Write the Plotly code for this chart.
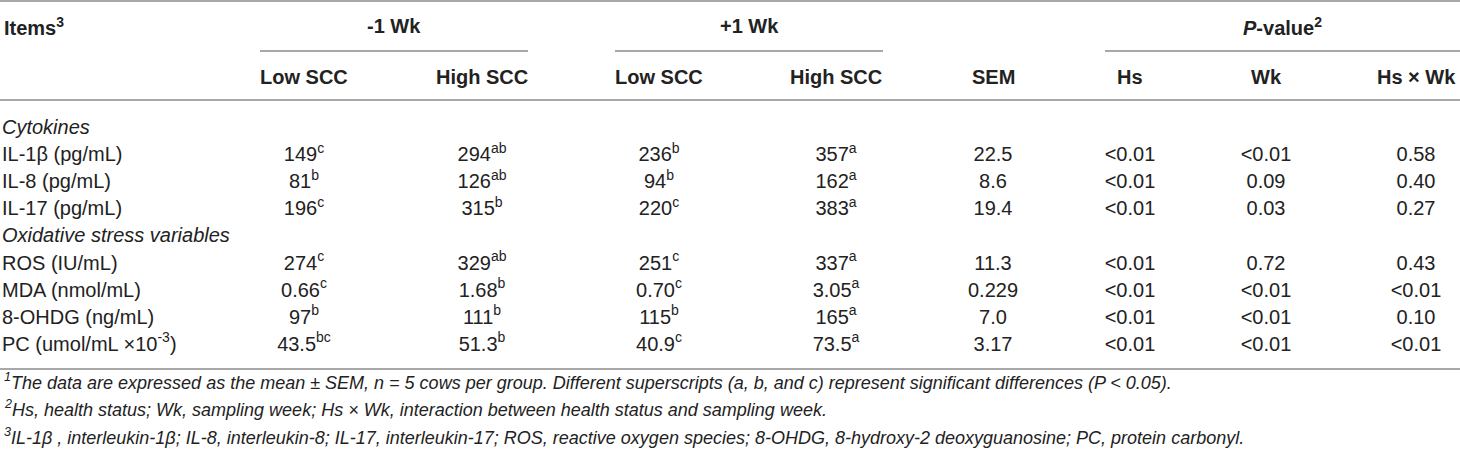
import plotly.graph_objects as go

# ---------------- data ----------------
items = ["<i>Cytokines</i>", "IL-1β (pg/mL)", "IL-8 (pg/mL)", "IL-17 (pg/mL)",
         "<i>Oxidative stress variables</i>", "ROS (IU/mL)", "MDA (nmol/mL)",
         "8-OHDG (ng/mL)", "PC (umol/mL ×10<sup>-3</sup>)"]
data_rows = [1, 2, 3, 5, 6, 7, 8]

low_m1 = ["149", "81", "196", "274", "0.66", "97", "43.5"]
low_m1_sup = ["c", "b", "c", "c", "c", "b", "bc"]
high_m1 = ["294", "126", "315", "329", "1.68", "111", "51.3"]
high_m1_sup = ["ab", "ab", "b", "ab", "b", "b", "b"]
low_p1 = ["236", "94", "220", "251", "0.70", "115", "40.9"]
low_p1_sup = ["b", "b", "c", "c", "c", "b", "c"]
high_p1 = ["357", "162", "383", "337", "3.05", "165", "73.5"]
high_p1_sup = ["a", "a", "a", "a", "a", "a", "a"]
sem = ["22.5", "8.6", "19.4", "11.3", "0.229", "7.0", "3.17"]
p_hs = ["<0.01", "<0.01", "<0.01", "<0.01", "<0.01", "<0.01", "<0.01"]
p_wk = ["<0.01", "0.09", "0.03", "0.72", "<0.01", "<0.01", "<0.01"]
p_int = ["0.58", "0.40", "0.27", "0.43", "<0.01", "0.10", "<0.01"]

group_headers = ["-1 Wk", "+1 Wk", "<i>P</i>-value<sup>2</sup>"]
sub_headers = ["Low SCC", "High SCC", "Low SCC", "High SCC", "SEM", "Hs", "Wk", "Hs × Wk"]

footnotes = [
    "<sup>1</sup>The data are expressed as the mean ± SEM, n = 5 cows per group. Different superscripts (a, b, and c) represent significant differences (P &lt; 0.05).",
    "<sup>2</sup>Hs, health status; Wk, sampling week; Hs × Wk, interaction between health status and sampling week.",
    "<sup>3</sup>IL-1β , interleukin-1β; IL-8, interleukin-8; IL-17, interleukin-17; ROS, reactive oxygen species; 8-OHDG, 8-hydroxy-2 deoxyguanosine; PC, protein carbonyl.",
]

# ---------------- layout constants ----------------
W, H = 1460, 453
FONT = "Liberation Sans, Arial, Helvetica, sans-serif"
TXT = "#222222"
LINE = "#a8a8a8"
ROW0, ROWSTEP = 129, 27.1
col_x = [304, 482, 659, 836, 993, 1130, 1266, 1416]
group_x = [394, 749, 1282]
group_spans = [(260, 528), (615, 883), (1105, 1460)]


def esc(s):
    return s.replace("<0", "&lt;0")


def row_y(i):
    return ROW0 + i * ROWSTEP


fig = go.Figure()

# item names
fig.add_trace(go.Scatter(
    x=[2] * len(items), y=[row_y(i) for i in range(len(items))],
    text=items, mode="text", textposition="middle right",
    textfont=dict(family=FONT, size=20, color=TXT), hoverinfo="skip"))

# data columns
columns = [
    [f"{v}<sup>{s}</sup>" for v, s in zip(low_m1, low_m1_sup)],
    [f"{v}<sup>{s}</sup>" for v, s in zip(high_m1, high_m1_sup)],
    [f"{v}<sup>{s}</sup>" for v, s in zip(low_p1, low_p1_sup)],
    [f"{v}<sup>{s}</sup>" for v, s in zip(high_p1, high_p1_sup)],
    sem,
    [esc(v) for v in p_hs],
    [esc(v) for v in p_wk],
    [esc(v) for v in p_int],
]
for cx, col in zip(col_x, columns):
    fig.add_trace(go.Scatter(
        x=[cx] * len(col), y=[row_y(r) for r in data_rows],
        text=col, mode="text", textposition="middle center",
        textfont=dict(family=FONT, size=20, color=TXT), hoverinfo="skip"))

# headers
annos = [dict(x=2, y=26, text="<b>Items<sup>3</sup></b>", xanchor="left")]
for gx, g in zip(group_x, group_headers):
    annos.append(dict(x=gx, y=26, text=f"<b>{g}</b>", xanchor="center"))
for cx, s in zip(col_x, sub_headers):
    if s == "Hs × Wk":
        annos.append(dict(x=1458, y=77, text=f"<b>{s}</b>", xanchor="right"))
    else:
        annos.append(dict(x=cx, y=77, text=f"<b>{s}</b>", xanchor="center"))
for k, fn in enumerate(footnotes):
    annos.append(dict(x=2, y=381 + k * 27.5, text=f"<i>{fn}</i>", xanchor="left",
                      font=dict(family=FONT, size=18, color=TXT)))
for a in annos:
    a.setdefault("font", dict(family=FONT, size=20, color=TXT))
    a.update(xref="x", yref="y", showarrow=False, yanchor="middle")
    fig.add_annotation(**a)

# rules
shapes = [dict(x0=0, x1=W, y0=1, y1=1), dict(x0=0, x1=W, y0=100, y1=100),
          dict(x0=0, x1=W, y0=369, y1=369)]
for a, b in group_spans:
    shapes.append(dict(x0=a, x1=b, y0=51, y1=51))
for s in shapes:
    fig.add_shape(type="line", xref="x", yref="y", line=dict(color=LINE, width=2), **s)

fig.update_layout(
    width=W, height=H, margin=dict(l=0, r=0, t=0, b=0),
    paper_bgcolor="white", plot_bgcolor="white", showlegend=False,
    xaxis=dict(range=[0, W], visible=False, fixedrange=True),
    yaxis=dict(range=[H, 0], visible=False, fixedrange=True),
)
fig.write_html("out.html", config={"displayModeBar": False},
               post_script="document.body.style.margin='0';document.body.style.padding='0';")
